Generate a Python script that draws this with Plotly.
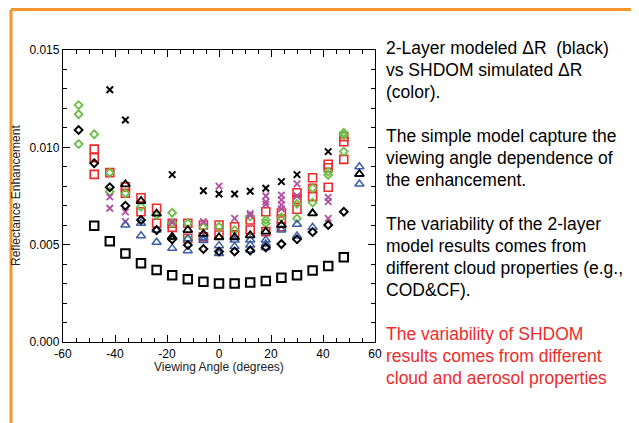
import plotly.graph_objects as go

# ---------------- data ----------------
angles = [-54, -48, -42, -36, -30, -24, -18, -12, -6, 0, 6, 12, 18, 24, 30, 36, 42, 48, 54]
N = None

# 2-layer model (black)
model_square = [N, 0.00597, 0.00517, 0.00455, 0.00405, 0.00370, 0.00343, 0.00322, 0.00310, 0.00301,
                0.00301, 0.00306, 0.00313, 0.00330, 0.00343, 0.00367, 0.00390, 0.00435, N]
model_x = [N, N, 0.01296, 0.01140, N, N, 0.00860, N, 0.00777, 0.00760,
           0.00760, 0.00774, 0.00790, 0.00824, 0.00860, N, 0.00978, N, N]
model_diamond = [0.01089, 0.00918, 0.00795, 0.00700, 0.00627, 0.00575, 0.00527, 0.00498, 0.00478, 0.00465,
                 0.00465, 0.00470, 0.00486, 0.00503, 0.00528, 0.00565, 0.00601, 0.00669, N]
model_triangle = [N, N, N, 0.00810, 0.00724, 0.00660, 0.00540, 0.00575, 0.00555, 0.00538,
                  0.00538, 0.00548, 0.00567, 0.00601, N, 0.00661, N, N, 0.00863]

# SHDOM simulations (colour)
red_1 = [N, 0.00991, 0.00870, 0.00797, 0.00741, 0.00687, 0.00610, 0.00610, 0.00601, 0.00601,
         0.00592, 0.00627, 0.00669, 0.00663, 0.00767, 0.00844, 0.00913, 0.01055, N]
red_2 = [N, 0.00947, N, 0.00764, 0.00669, 0.00610, 0.00589, 0.00533, 0.00540, 0.00550,
         0.00550, 0.00575, 0.00567, 0.00632, 0.00733, 0.00790, 0.00895, 0.01029, N]
red_3 = [N, 0.00861, N, N, N, N, N, N, N, N,
         N, N, N, 0.00592, 0.00682, 0.00747, 0.00795, 0.00938, N]

green_1 = [0.01217, 0.01067, 0.00870, 0.00764, 0.00695, 0.00652, 0.00664, 0.00610, 0.00590, 0.00592,
           0.00575, 0.00645, 0.00627, 0.00640, 0.00710, 0.00790, 0.00875, 0.01075, N]
green_2 = [0.01170, N, 0.00772, N, N, N, 0.00610, 0.00530, N, N,
           N, N, 0.00610, N, 0.00635, 0.00716, 0.00858, 0.01063, N]
green_3 = [0.01017, N, N, N, N, N, N, N, N, N,
           N, N, N, N, N, N, N, 0.00978, N]

purple_1 = [N, N, 0.00746, 0.00669, N, N, 0.00616, N, 0.00618, 0.00801,
            0.00635, 0.00660, 0.00750, 0.00755, 0.00812, N, 0.00743, N, N]
purple_2 = [N, N, 0.00687, 0.00618, N, N, N, N, N, N,
            N, 0.00650, 0.00720, 0.00730, 0.00750, N, 0.00721, N, N]
purple_3 = [N, N, N, N, N, N, N, N, N, N,
            N, N, 0.00707, 0.00704, N, N, 0.00635, N, N]
purple_4 = [N, N, N, N, N, N, N, N, N, N,
            N, N, N, 0.00684, N, N, N, N, N]

blue_1 = [N, N, N, 0.00601, 0.00610, 0.00575, 0.00540, 0.00530, 0.00535, 0.00495,
          0.00524, 0.00524, 0.00524, 0.00601, 0.00605, 0.00661, N, N, 0.00900]
blue_2 = [N, N, N, N, 0.00546, 0.00512, 0.00481, 0.00469, 0.00522, 0.00455,
          0.00490, 0.00498, 0.00503, 0.00575, 0.00545, 0.00589, N, N, 0.00812]
blue_3 = [N, N, N, N, N, N, N, N, N, N,
          N, 0.00473, 0.00486, N, N, N, N, N, N]

x_tick_vals = [-60, -40, -20, 0, 20, 40, 60]
x_tick_text = ["-60", "-40", "-20", "0", "20", "40", "60"]
y_tick_vals = [0.000, 0.005, 0.010, 0.015]
y_tick_text = ["0.000", "0.005", "0.010", "0.015"]

# text lines (with the screen y of each line's centre)
black_lines = [
    ("2-Layer modeled \u0394R  (black)", 48),
    ("vs SHDOM simulated \u0394R", 70),
    ("(color).", 92),
    ("The simple model capture the", 136),
    ("viewing angle dependence of", 158),
    ("the enhancement.", 180),
    ("The variability of the 2-layer", 224),
    ("model results comes from", 246),
    ("different cloud properties (e.g.,", 268),
    ("COD&CF).", 290),
]
red_lines = [
    ("The variability of SHDOM", 334),
    ("results comes from different", 356),
    ("cloud and aerosol properties", 378),
]

# ---------------- styling ----------------
RED = "#EE2B2B"
GREEN = "#6BBE45"
PURPLE = "#B24FA3"
BLUE = "#3C5DAA"
BLACK = "#000000"
ORANGE = "#F5962A"
FONT = "Liberation Sans, Arial, Helvetica, sans-serif"

W, H = 639, 423
OFF = 8                        # page offset of the figure (body margin)
SL, SR, ST, SB = 63, 375, 50, 342   # plot area in screen pixels
L, R, T, B = SL - OFF, SR - OFF, ST - OFF, SB - OFF


def px_x(p):
    return (p - SL) / (SR - SL)


def px_y(p):
    return (SB - p) / (SB - ST)


fig = go.Figure()


def add(series, symbol, color, size, lw):
    fig.add_trace(go.Scatter(
        x=angles, y=series, mode="markers",
        marker=dict(symbol=symbol, size=size, color=color,
                    line=dict(color=color, width=lw)),
        showlegend=False, hoverinfo="skip", cliponaxis=False))


for s in (red_1, red_2, red_3):
    add(s, "square-open", RED, 8, 1.6)
for s in (green_1, green_2, green_3):
    add(s, "diamond-open", GREEN, 6, 1.8)
for s in (purple_1, purple_2, purple_3, purple_4):
    add(s, "x-thin", PURPLE, 6.5, 1.8)
for s in (blue_1, blue_2, blue_3):
    add(s, "triangle-up-open", BLUE, 8, 1.5)

add(model_square, "square-open", BLACK, 8.5, 2)
add(model_x, "x-thin", BLACK, 6.5, 2)
add(model_diamond, "diamond-open", BLACK, 6, 2)
add(model_triangle, "triangle-up-open", BLACK, 8, 1.8)

axis_common = dict(showgrid=False, zeroline=False, showline=True, linecolor=BLACK, linewidth=1.3,
                   ticks="inside", tickcolor=BLACK, tickwidth=1, mirror="ticks",
                   tickfont=dict(family=FONT, size=12, color=BLACK))

fig.update_xaxes(range=[-60, 60], tickmode="array", tickvals=x_tick_vals, ticktext=x_tick_text,
                 ticklen=7, minor=dict(dtick=5, ticks="inside", ticklen=4, tickcolor=BLACK, tickwidth=1),
                 **axis_common)
fig.update_yaxes(range=[0, 0.015], tickmode="array", tickvals=y_tick_vals, ticktext=y_tick_text,
                 ticklen=7, minor=dict(dtick=0.001, ticks="inside", ticklen=4, tickcolor=BLACK, tickwidth=1),
                 **axis_common)

annotations = [
    dict(text="Viewing Angle (degrees)", x=0.5, y=px_y(367), xref="paper", yref="paper",
         showarrow=False, xanchor="center", yanchor="middle",
         font=dict(family=FONT, size=12, color="#222222")),
    dict(text="Reflectance Enhancement", x=px_x(16), y=0.5, xref="paper", yref="paper",
         showarrow=False, xanchor="center", yanchor="middle", textangle=-90,
         font=dict(family=FONT, size=12, color="#222222")),
]
for lines, col in ((black_lines, BLACK), (red_lines, RED)):
    for txt, ymid in lines:
        annotations.append(dict(text=txt, x=px_x(384), y=px_y(ymid), xref="paper", yref="paper",
                                showarrow=False, xanchor="left", yanchor="middle", align="left",
                                font=dict(family=FONT, size=17.5, color=col)))

top_y = OFF + 1.5   # top frame line, kept just inside the figure
shapes = [
    dict(type="line", xref="paper", yref="paper", x0=px_x(11), x1=px_x(660), y0=px_y(top_y), y1=px_y(top_y),
         line=dict(color=ORANGE, width=3)),
    dict(type="line", xref="paper", yref="paper", x0=px_x(11), x1=px_x(11), y0=px_y(top_y), y1=px_y(440),
         line=dict(color=ORANGE, width=3)),
]

fig.update_layout(width=W, height=H, autosize=False,
                  margin=dict(l=L, r=W - R, t=T, b=H - B, pad=0),
                  paper_bgcolor="white", plot_bgcolor="white",
                  annotations=annotations, shapes=shapes,
                  font=dict(family=FONT))

fig.write_html("out.html")
